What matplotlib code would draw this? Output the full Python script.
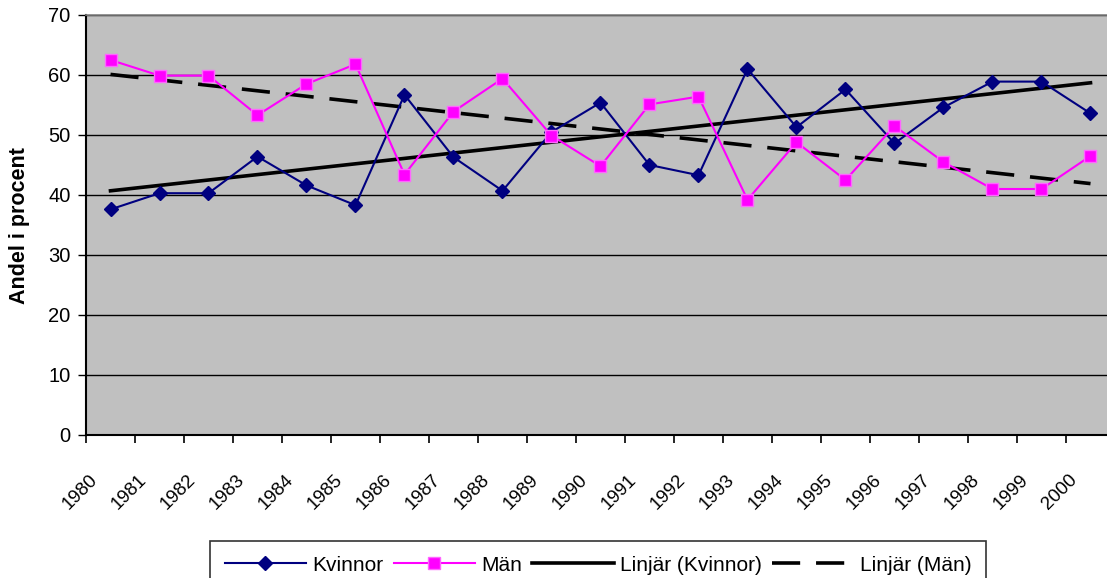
import numpy as np
import matplotlib
matplotlib.use('Agg')
import matplotlib.pyplot as plt
from matplotlib.transforms import offset_copy

plt.rcParams['font.family'] = ['Liberation Sans', 'DejaVu Sans']

years = [str(y) for y in range(1980, 2001)]
kvinnor = [37.6, 40.3, 40.3, 46.4, 41.6, 38.3, 56.7, 46.3, 40.7, 50.5,
           55.4, 45.0, 43.3, 61.0, 51.3, 57.6, 48.6, 54.6, 58.9, 58.9, 53.6]
man = [62.5, 59.9, 59.9, 53.3, 58.5, 61.8, 43.4, 53.9, 59.4, 49.9,
       44.8, 55.1, 56.4, 39.2, 48.8, 42.5, 51.5, 45.5, 41.0, 41.0, 46.5]
# trendline values at first and last year
trend_kvinnor = [40.7, 58.7]
trend_man = [60.1, 41.9]
yticks = [0, 10, 20, 30, 40, 50, 60, 70]

W, H = 1107, 578
fig = plt.figure(figsize=(W / 100, H / 100), dpi=100)
# plot area runs past the right edge of the picture, as in the original
ax = fig.add_axes([86 / W, (H - 435) / H, (1115 - 86) / W, 420 / H])
ax.set_facecolor('#C0C0C0')

x = np.arange(len(years))
xt = [x[0], x[-1]]

lk, = ax.plot(x, kvinnor, color='#000080', lw=1.5, marker='D', ms=7.5,
              mfc='#000080', mec='#000080', label='Kvinnor', zorder=4)
lm, = ax.plot(x, man, color='#FF00FF', lw=1.5, marker='s', ms=8.5,
              mfc='#FF00FF', mec='#FF66FF', mew=1, label='Män', zorder=4)
tk, = ax.plot(xt, trend_kvinnor, color='black', lw=2.6,
              label='Linjär (Kvinnor)', zorder=3)
tm, = ax.plot(xt, trend_man, color='black', lw=2.6,
              dashes=(7.8, 4.4), label='Linjär (Män)', zorder=3)

ax.set_xlim(-0.5, len(years) - 0.5)
ax.set_ylim(0, 70)
ax.set_yticks(yticks)
ax.yaxis.grid(True, color='black', lw=1)
ax.set_axisbelow(True)
ax.tick_params(axis='y', direction='out', length=6, width=1, labelsize=14.5, pad=5)

ax.set_xticks(np.arange(len(years) + 1) - 0.5)
ax.set_xticklabels([])
ax.tick_params(axis='x', direction='out', length=6, width=1.2)

for s in ['left', 'bottom']:
    ax.spines[s].set_color('black')
    ax.spines[s].set_linewidth(1.5)
ax.spines['top'].set_color('#808080')
ax.spines['top'].set_linewidth(1.2)
ax.spines['right'].set_visible(False)

# rotated year labels, right end a bit left of the category centre
trans = offset_copy(ax.get_xaxis_transform(), fig=fig, x=-16, y=-42, units='dots')
for i, yr in enumerate(years):
    ax.text(i, 0, yr, transform=trans, rotation=45, rotation_mode='anchor',
            ha='right', va='center', fontsize=13.5)

fig.text(20 / W, 1 - 226 / H, 'Andel i procent', rotation=90, ha='center',
         va='center', fontsize=15.5, fontweight='bold')

# legend box is cut off by the bottom edge, as in the original
leg = fig.legend(handles=[lk, lm, tk, tm], loc='upper center', ncol=4,
                 bbox_to_anchor=(598 / W, 1 - 541 / H), fontsize=15,
                 frameon=True, fancybox=False, edgecolor='black',
                 handlelength=3.9, handletextpad=0.3, columnspacing=0.5,
                 borderpad=0.7, borderaxespad=0)
leg.get_frame().set_linewidth(1.2)

fig.savefig('out.png', dpi=100)
